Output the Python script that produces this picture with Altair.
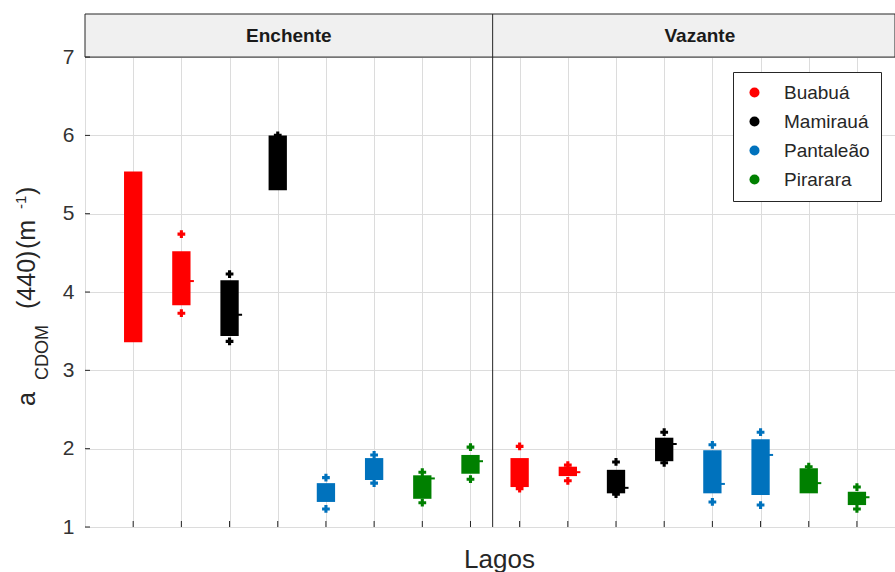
import altair as alt
import pandas as pd

# ---------------- data ----------------
lakes = ["Buabuá", "Mamirauá", "Pantaleão", "Pirarara"]
lake_colors = ["#ff0000", "#000000", "#0072bd", "#008000"]
periods = ["Enchente", "Vazante"]
box_lake_index = [0, 0, 1, 1, 2, 2, 3, 3]

enchente_q1 = [3.36, 3.83, 3.44, 5.30, 1.32, 1.60, 1.36, 1.68]
enchente_q3 = [5.54, 4.52, 4.15, 6.00, 1.56, 1.88, 1.66, 1.92]
enchente_med = [None, 4.14, 3.71, None, None, None, 1.62, 1.84]
enchente_points = [[], [4.74, 3.73], [4.23, 3.37, 4.06], [6.00], [1.63, 1.23],
                   [1.92, 1.56], [1.70, 1.31], [2.02, 1.61]]

vazante_q1 = [1.51, 1.65, 1.43, 1.84, 1.43, 1.41, 1.43, 1.28]
vazante_q3 = [1.88, 1.77, 1.73, 2.14, 1.98, 2.12, 1.75, 1.45]
vazante_med = [None, 1.70, 1.50, 2.06, 1.55, 1.92, 1.56, 1.38]
vazante_points = [[2.03, 1.49], [1.79, 1.59, 1.70], [1.83, 1.42], [2.21, 1.82, 2.05],
                  [2.05, 1.32], [2.21, 1.28], [1.77], [1.51, 1.23, 1.38]]

y_ticks = [1, 2, 3, 4, 5, 6, 7]

# ---------------- layout helpers ----------------
PANEL_SHIFT = 8.02      # x offset of second panel
X_MAX = 16.81
DIVIDER = 8.46
Y_TOP = 7.55
HALF = 0.19
FONT = "Liberation Sans"
TXT = "#262626"

rows, pts, meds = [], [], []
for p_i, (period, q1s, q3s, mds, pls) in enumerate([
        ("Enchente", enchente_q1, enchente_q3, enchente_med, enchente_points),
        ("Vazante", vazante_q1, vazante_q3, vazante_med, vazante_points)]):
    for i in range(8):
        pos = (i + 1) + p_i * PANEL_SHIFT
        lake = lakes[box_lake_index[i]]
        rows.append(dict(period=period, lake=lake, pos=pos, x1=pos - HALF, x2=pos + HALF,
                         q1=q1s[i], q3=q3s[i]))
        if mds[i] is not None:
            meds.append(dict(lake=lake, x1=pos + HALF - 0.02, x2=pos + HALF + 0.07, med=mds[i]))
        for v in pls[i]:
            pts.append(dict(lake=lake, pos=pos, value=v))

df_box = pd.DataFrame(rows)
df_pts = pd.DataFrame(pts)
df_med = pd.DataFrame(meds)
positions = list(df_box["pos"])

xscale = alt.Scale(domain=[0, X_MAX], nice=False, zero=False)
yscale = alt.Scale(domain=[1, Y_TOP], nice=False, zero=False)
cscale = alt.Scale(domain=lakes, range=lake_colors)

xaxis = alt.Axis(values=positions, labels=False, ticks=False, domain=False, grid=True,
                 gridColor="#dcdcdc", title="Lagos", titleFontSize=26, titleFont=FONT,
                 titleFontWeight="normal", titleColor=TXT, titleX=414, titleY=40,
                 titleBaseline="alphabetic", titleAlign="center", titleAngle=0)
yaxis = alt.Axis(values=y_ticks, format="d", grid=True, gridColor="#dcdcdc", domain=False,
                 ticks=False, labelFontSize=21, labelFont=FONT, labelColor="#333333",
                 labelPadding=11, title=None)

base_grid = alt.Chart(df_box).mark_rect(opacity=0).encode(
    x=alt.X("pos:Q", scale=xscale, axis=xaxis),
    y=alt.Y("q1:Q", scale=yscale, axis=yaxis),
)

boxes = alt.Chart(df_box).mark_rect().encode(
    x=alt.X("x1:Q", scale=xscale),
    x2="x2:Q",
    y=alt.Y("q1:Q", scale=yscale),
    y2="q3:Q",
    color=alt.Color("lake:N", scale=cscale, legend=alt.Legend(
        orient="none", legendX=648, legendY=58, title=None, padding=11,
        fillColor="white", strokeColor=TXT, labelFontSize=19, labelFont=FONT,
        labelColor=TXT, symbolType="circle", symbolSize=100, rowPadding=9,
        labelOffset=20, symbolOffset=1, symbolStrokeWidth=0)),
)

points = alt.Chart(df_pts).mark_point(shape="cross", filled=True, size=60, opacity=1).encode(
    x=alt.X("pos:Q", scale=xscale),
    y=alt.Y("value:Q", scale=yscale),
    color=alt.Color("lake:N", scale=cscale, legend=None),
)

medians = alt.Chart(df_med).mark_rule(strokeWidth=2).encode(
    x=alt.X("x1:Q", scale=xscale),
    x2="x2:Q",
    y=alt.Y("med:Q", scale=yscale),
    color=alt.Color("lake:N", scale=cscale, legend=None),
)

# inward ticks
df_yt = pd.DataFrame({"v": y_ticks})
ytick_marks = alt.Chart(df_yt).mark_rule(color=TXT).encode(
    y=alt.Y("v:Q", scale=yscale), x=alt.value(0), x2=alt.value(5))
xtick_marks = alt.Chart(df_box).mark_rule(color=TXT).encode(
    x=alt.X("pos:Q", scale=xscale), y=alt.value(513), y2=alt.value(507))

# header strip
df_head = pd.DataFrame({"x1": [0], "x2": [X_MAX], "y1": [7], "y2": [Y_TOP]})
header = alt.Chart(df_head).mark_rect(fill="#f0f0f0", stroke=TXT, strokeWidth=1).encode(
    x=alt.X("x1:Q", scale=xscale), x2="x2:Q",
    y=alt.Y("y1:Q", scale=yscale), y2="y2:Q")
df_div = pd.DataFrame({"x": [DIVIDER], "y1": [1], "y2": [Y_TOP]})
divider = alt.Chart(df_div).mark_rule(color=TXT, strokeWidth=1).encode(
    x=alt.X("x:Q", scale=xscale), y=alt.Y("y1:Q", scale=yscale), y2="y2:Q")
df_htxt = pd.DataFrame({"period": periods, "x": [4.23, 12.76], "y": [7.275, 7.275]})
header_text = alt.Chart(df_htxt).mark_text(fontSize=19, fontWeight="bold", font=FONT,
                                           color="#1a1a1a").encode(
    x=alt.X("x:Q", scale=xscale), y=alt.Y("y:Q", scale=yscale), text="period:N")

# y-axis title with sub/superscript
def piece(txt, x, y, size):
    return alt.Chart(pd.DataFrame({"t": [txt]})).mark_text(
        angle=270, align="left", baseline="alphabetic", fontSize=size, font=FONT,
        color=TXT).encode(x=alt.value(x), y=alt.value(y), text="t:N")

ytitle = [
    piece("a", -50, 392, 25),
    piece("CDOM", -37, 366, 18),
    piece("(440)", -50, 295, 25),
    piece("(m", -50, 235, 25),
    piece("-1", -59, 195, 15),
    piece(")", -50, 181, 25),
]

chart = alt.layer(base_grid, header, divider, boxes, medians, points, ytick_marks,
                  xtick_marks, header_text, *ytitle).properties(
    width=810, height=513,
    autosize=alt.AutoSizeParams(type="none"),
    padding={"left": 85, "top": 14, "right": 0, "bottom": 45},
).configure_view(stroke=TXT, strokeWidth=1).configure(background="white")

chart.save("out.html", embed_options={"renderer": "svg", "actions": False})
